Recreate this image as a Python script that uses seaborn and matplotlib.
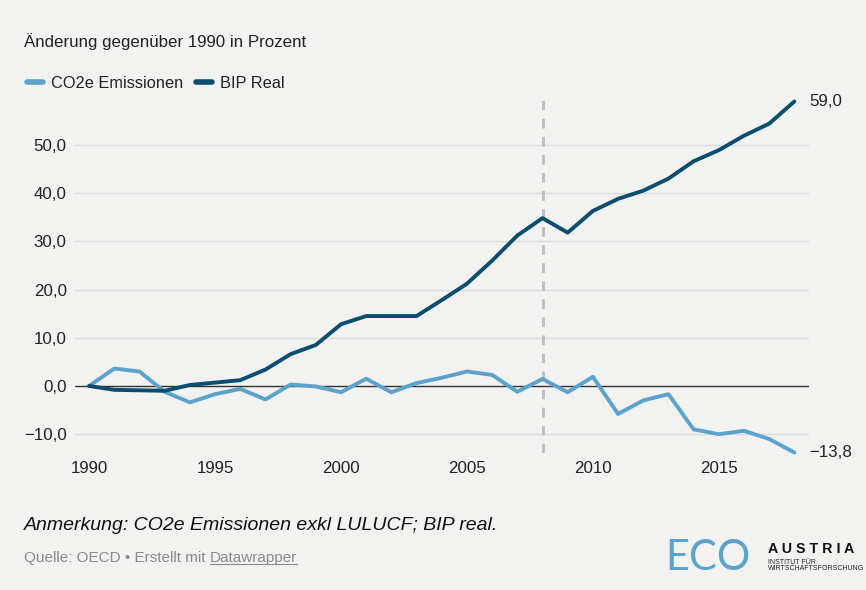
import numpy as np
import pandas as pd
import matplotlib
matplotlib.use("Agg")
import matplotlib.pyplot as plt
import seaborn as sns

# data (change vs. 1990 in %)
years = list(range(1990, 2019))
co2 = [0.0, 3.6, 3.0, -1.2, -3.4, -1.7, -0.6, -2.8, 0.3, -0.1,
       -1.3, 1.5, -1.3, 0.6, 1.7, 3.0, 2.3, -1.2, 1.45, -1.3,
       1.9, -5.8, -3.0, -1.7, -9.0, -10.0, -9.3, -11.0, -13.8]
bip = [0.0, -0.8, -0.9, -1.0, 0.2, 0.7, 1.2, 3.4, 6.6, 8.5,
       12.8, 14.5, 14.5, 14.5, 17.8, 21.2, 26.0, 31.2, 34.8, 31.8,
       36.3, 38.8, 40.5, 43.0, 46.6, 48.9, 51.9, 54.4, 59.0]
series_names = ["CO2e Emissionen", "BIP Real"]
series_colors = ["#5ba3cd", "#0a4d6e"]
yticks = [-10, 0, 10, 20, 30, 40, 50]
xticks = [1990, 1995, 2000, 2005, 2010, 2015]
marker_year = 2008

df = pd.DataFrame({
    "Jahr": years * 2,
    "Wert": co2 + bip,
    "Reihe": [series_names[0]] * len(years) + [series_names[1]] * len(years),
})

sns.set_style("white")
plt.rcParams["font.family"] = ["Liberation Sans", "DejaVu Sans"]
bg = "#f2f2f1"
fs = 12.2

fig = plt.figure(figsize=(8.66, 5.9), dpi=100, facecolor=bg)
ax = fig.add_axes([75 / 866, 1 - 453 / 590, (809 - 75) / 866, (453 - 100) / 590])
ax.set_facecolor(bg)

# grid lines by hand (no line at 60)
for t in yticks:
    if t == 0:
        ax.axhline(0, color="#333333", lw=1.0, zorder=2)
    else:
        ax.axhline(t, color="#dcdcdc", lw=1.0, zorder=1)

ax.axvline(marker_year, color="#bdbdbd", lw=2, ls=(0, (3.5, 3)), zorder=1.5)

sns.lineplot(data=df, x="Jahr", y="Wert", hue="Reihe", palette=series_colors,
             hue_order=series_names, lw=2.8, ax=ax, legend=False, zorder=3)
for ln in ax.lines[-2:]:
    ln.set_clip_on(False)
    ln.set_solid_capstyle("round")
    ln.set_solid_joinstyle("round")

ax.set_xlim(1989.44, 2018.58)
ax.set_ylim(-13.9, 59.3)
ax.set_xticks(xticks)
ax.set_xticklabels([str(x) for x in xticks])
ax.set_yticks(yticks)
ax.set_yticklabels([f"{t:.1f}".replace(".", ",").replace("-", "\u2212") for t in yticks])
ax.tick_params(axis="both", length=0, labelsize=fs, colors="#222222")
ax.tick_params(axis="y", pad=6)
ax.tick_params(axis="x", pad=6)
ax.set_xlabel("")
ax.set_ylabel("")
for s in ax.spines.values():
    s.set_visible(False)

# end labels
ax.annotate(f"{bip[-1]:.1f}".replace(".", ","), (years[-1], bip[-1]),
            xytext=(11, 0), textcoords="offset points", va="center",
            ha="left", fontsize=fs, color="#222222")
ax.annotate(f"{co2[-1]:.1f}".replace(".", ",").replace("-", "\u2212"), (years[-1], co2[-1]),
            xytext=(11, 0), textcoords="offset points", va="center",
            ha="left", fontsize=fs, color="#222222")

# title / legend
fig.text(24 / 866, 1 - 42 / 590, "Änderung gegenüber 1990 in Prozent",
         fontsize=fs, color="#222222", va="center", ha="left")
handles = [plt.Line2D([], [], color=c, lw=4, solid_capstyle="round") for c in series_colors]
fig.legend(handles, series_names, loc="center left",
           bbox_to_anchor=(12 / 866, 1 - 83 / 590), ncol=2, frameon=False,
           fontsize=11.8, handlelength=1.0, handletextpad=0.45, columnspacing=0.8,
           labelcolor="#222222")

# notes
fig.text(24 / 866, 1 - 525 / 590, "Anmerkung: CO2e Emissionen exkl LULUCF; BIP real.",
         fontsize=14, style="italic", color="#111111", va="center", ha="left")
q = fig.text(24 / 866, 1 - 558 / 590, "Quelle: OECD • Erstellt mit ",
             fontsize=11, color="#8a8a8a", va="center", ha="left")
fig.canvas.draw()
bb = q.get_window_extent()
dwt = fig.text(bb.x1 / 866, 1 - 558 / 590, "Datawrapper", fontsize=11,
               color="#8a8a8a", va="center", ha="left")
dw = dwt.get_window_extent(fig.canvas.get_renderer())
fig.add_artist(plt.Line2D([dw.x0 / 866, dw.x1 / 866], [(dw.y0 + 1) / 590] * 2,
                          color="#8a8a8a", lw=0.8))

# logo
fig.text(665 / 866, 1 - 558 / 590, "ECO", fontsize=30, color="#5ba3cd",
         family=["Lato", "DejaVu Sans"], va="center", ha="left")
fig.text(768 / 866, 1 - 549 / 590, "A U S T R I A", fontsize=10.3, color="#111111",
         fontweight="bold", va="center", ha="left")
fig.text(768 / 866, 1 - 562 / 590, "INSTITUT FÜR", fontsize=5.0, color="#222222",
         va="center", ha="left")
fig.text(768 / 866, 1 - 569 / 590, "WIRTSCHAFTSFORSCHUNG", fontsize=5.0, color="#222222",
         va="center", ha="left")

fig.savefig("out.png", dpi=100, facecolor=bg)
